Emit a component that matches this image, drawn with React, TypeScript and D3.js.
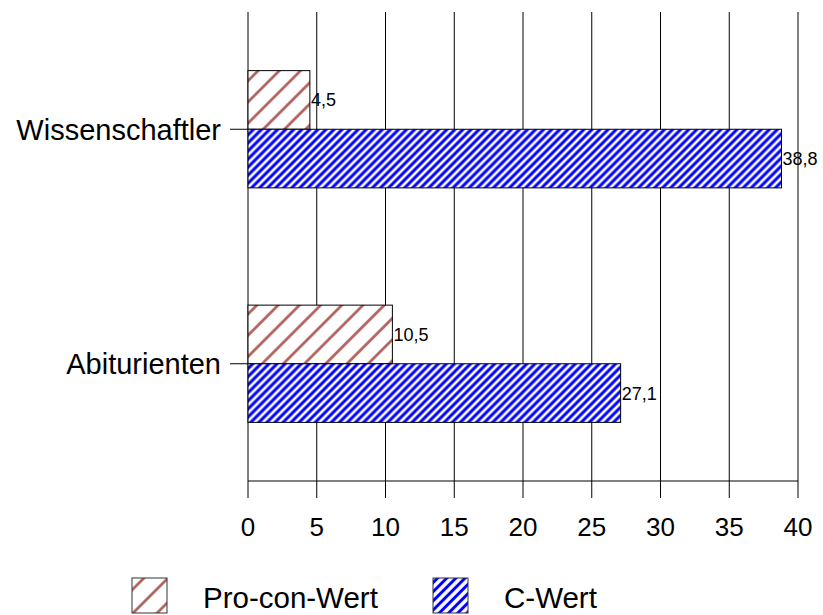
import React, { useEffect, useRef } from "react";
import * as d3 from "d3";

const categories = ["Wissenschaftler", "Abiturienten"];
const seriesNames = ["Pro-con-Wert", "C-Wert"];
const proConValues = [4.5, 10.5];
const cValues = [38.8, 27.1];
const xTicks = [0, 5, 10, 15, 20, 25, 30, 35, 40];

const App = () => {
  const svgRef = useRef<SVGSVGElement>(null);

  useEffect(() => {
    const svg = d3.select(svgRef.current);
    svg.selectAll("*").remove(); // Clear previous drawings

    const width = 823;
    const height = 615;
    const margin = { top: 12, right: 25, bottom: 134, left: 248 };
    const font = "'Liberation Sans', Arial, sans-serif";

    const xScale = d3
      .scaleLinear()
      .domain([0, 40])
      .range([margin.left, width - margin.right]);
    const yScale = d3
      .scaleBand()
      .domain(categories)
      .range([margin.top, height - margin.bottom]);
    const ySub = d3
      .scaleBand()
      .domain(seriesNames)
      .range([0, yScale.bandwidth()])
      .paddingInner(0)
      .paddingOuter(1);

    const axisY = height - margin.bottom;

    // Hatch patterns
    const defs = svg.append("defs");
    const makePattern = (id, spacing, color, strokeW) => {
      const p = defs
        .append("pattern")
        .attr("id", id)
        .attr("patternUnits", "userSpaceOnUse")
        .attr("width", spacing)
        .attr("height", spacing)
        .attr("patternTransform", "rotate(45)");
      p.append("rect").attr("width", spacing).attr("height", spacing).attr("fill", "#fff");
      p.append("line")
        .attr("x1", spacing / 2)
        .attr("x2", spacing / 2)
        .attr("y1", 0)
        .attr("y2", spacing)
        .attr("stroke", color)
        .attr("stroke-width", strokeW);
    };
    makePattern("hatchProCon", 15, "#ad5a54", 2.6);
    makePattern("hatchC", 5.7, "#0000ff", 3);
    makePattern("hatchProConLeg", 17, "#ad5a54", 2.6);
    makePattern("hatchCLeg", 6.5, "#0000ff", 3);

    const fills = { "Pro-con-Wert": "url(#hatchProCon)", "C-Wert": "url(#hatchC)" };
    const legendFills = { "Pro-con-Wert": "url(#hatchProConLeg)", "C-Wert": "url(#hatchCLeg)" };

    // Vertical grid lines (with tick extension below the axis)
    svg
      .append("g")
      .selectAll("line")
      .data(xTicks)
      .join("line")
      .attr("x1", (d) => xScale(d))
      .attr("x2", (d) => xScale(d))
      .attr("y1", margin.top)
      .attr("y2", axisY + 17)
      .attr("stroke", "#000")
      .attr("stroke-width", 1);

    // X axis line
    svg
      .append("line")
      .attr("x1", xScale(0))
      .attr("x2", xScale(40))
      .attr("y1", axisY)
      .attr("y2", axisY)
      .attr("stroke", "#000");

    // X tick labels
    svg
      .append("g")
      .selectAll("text")
      .data(xTicks)
      .join("text")
      .attr("x", (d) => xScale(d))
      .attr("y", axisY + 55)
      .attr("text-anchor", "middle")
      .attr("font-family", font)
      .attr("font-size", 26)
      .text((d) => d);

    // Category ticks and labels
    const cat = svg
      .append("g")
      .selectAll("g")
      .data(categories)
      .join("g")
      .attr("transform", (d) => `translate(0, ${yScale(d) + yScale.bandwidth() / 2})`);
    cat
      .append("line")
      .attr("x1", margin.left - 18)
      .attr("x2", margin.left)
      .attr("stroke", "#000");
    cat
      .append("text")
      .attr("x", margin.left - 27)
      .attr("dy", "0.36em")
      .attr("text-anchor", "end")
      .attr("font-family", font)
      .attr("font-size", 29)
      .text((d) => d);

    // Bars
    const rows = categories.flatMap((c, i) => [
      { cat: c, series: "Pro-con-Wert", value: proConValues[i] },
      { cat: c, series: "C-Wert", value: cValues[i] },
    ]);

    svg
      .append("g")
      .selectAll("rect")
      .data(rows)
      .join("rect")
      .attr("x", xScale(0))
      .attr("y", (d) => yScale(d.cat) + ySub(d.series))
      .attr("width", (d) => xScale(d.value) - xScale(0))
      .attr("height", ySub.bandwidth())
      .attr("fill", (d) => fills[d.series])
      .attr("stroke", "#000")
      .attr("stroke-width", 1);

    // Value labels
    svg
      .append("g")
      .selectAll("text")
      .data(rows)
      .join("text")
      .attr("x", (d) => xScale(d.value) + 1)
      .attr("y", (d) => yScale(d.cat) + ySub(d.series) + ySub.bandwidth() / 2)
      .attr("dy", "0.36em")
      .attr("font-family", font)
      .attr("font-size", 18)
      .text((d) => String(d.value).replace(".", ","));

    // Legend
    const legendX = [132, 433];
    const legend = svg
      .append("g")
      .selectAll("g")
      .data(seriesNames)
      .join("g")
      .attr("transform", (d, i) => `translate(${legendX[i]}, 578)`);
    legend
      .append("rect")
      .attr("width", 35)
      .attr("height", 35)
      .attr("fill", (d) => legendFills[d])
      .attr("stroke", "#333")
      .attr("stroke-width", 1);
    legend
      .append("text")
      .attr("x", 71)
      .attr("y", 30)
      .attr("font-family", font)
      .attr("font-size", 29.5)
      .text((d) => d);
  }, []);

  return (
    <svg
      ref={svgRef}
      width={823}
      height={615}
      style={{ position: "absolute", left: 0, top: 0, background: "#fff" }}
    />
  );
};

export default App;
